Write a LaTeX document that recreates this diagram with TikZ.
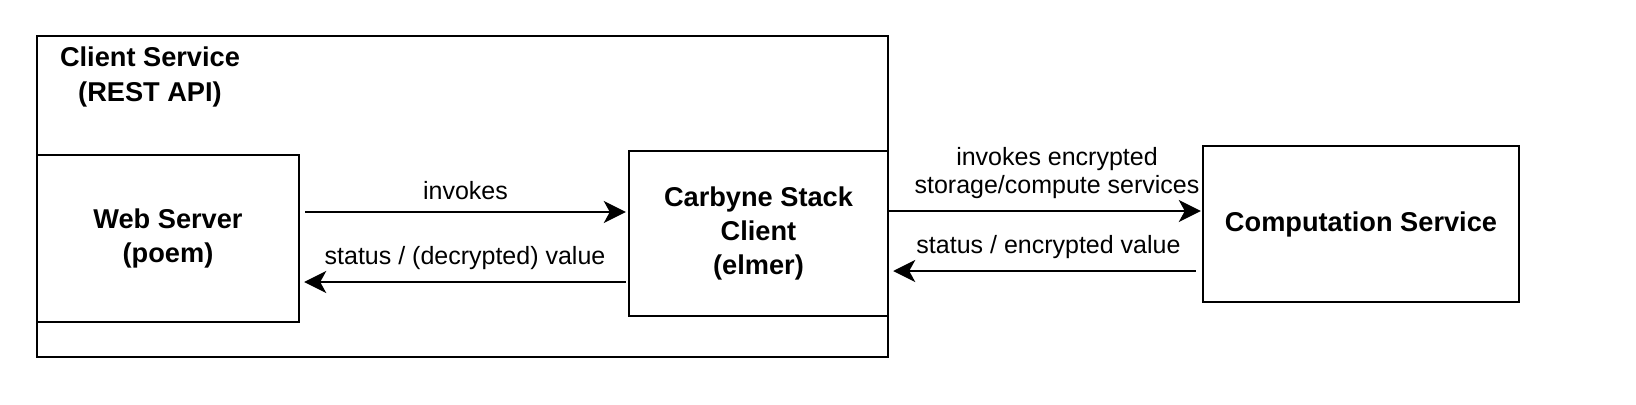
\documentclass[tikz,border=0pt]{standalone}
\usepackage{fontspec}
\setmainfont{Liberation Sans}
\usetikzlibrary{positioning}
\usetikzlibrary{calc}
\usetikzlibrary{arrows.meta}
\tikzset{
    % Filled arrow head, close to the classic one
    >={Stealth[length=11pt, width=11pt, inset=3pt]},
%
    % Plain boxes for the services
    service box/.style={
        draw, rectangle, line width=1.2pt, align=center, inner sep=0,
        font=\bfseries\fontsize{13.6}{17.2}\selectfont},
%
    % Text sitting on the connectors
    edge label/.style={align=center, font=\fontsize{12.5}{14}\selectfont}}

\begin{document}
\begin{tikzpicture}[x=0.5pt, y=-0.5pt, line width=1.2pt]
\useasboundingbox (0,0) rectangle (1636,404);

% The client service frame and its title
\node[service box, minimum width=425.5pt, minimum height=160.5pt]
    (client service) at (462.5,196.5) {};
\node[align=center, font=\bfseries\fontsize{13.6}{17.2}\selectfont]
    (client title) at (150,77) {Client Service\\(REST API)};

% Boxes inside the frame
\node[service box, minimum width=131pt, minimum height=83.5pt]
    (web server) at (168,238.5) {Web Server\\(poem)};
\node[service box, minimum width=129.5pt, minimum height=82.5pt]
    (carbyne) at (758.5,233.5) {Carbyne Stack\\Client\\(elmer)};

% The remote side
\node[service box, minimum width=158pt, minimum height=78pt]
    (computation) at (1361,224) {Computation Service};

% Web server <-> client
\draw[->] ($(web server.east)+(5,-26.5)$) -- ($(carbyne.west)+(-2,-21.5)$)
    node[edge label, midway, above=2pt] (invokes) {invokes};
\draw[->] ($(carbyne.west)+(-2,48.5)$) -- ($(web server.east)+(4,43.5)$)
    node[edge label, midway, above=2pt] (decrypted) {status / (decrypted) value};

% Client <-> computation service
\draw[->] ($(carbyne.east)+(0,-22.5)$) -- ($(computation.west)+(-1,-13)$)
    node[edge label, midway, above=2pt, xshift=6pt] (services)
    {invokes encrypted\\storage/compute services};
\draw[->] ($(computation.west)+(-6,47)$) -- ($(carbyne.east)+(4,37.5)$)
    node[edge label, midway, above=2pt, xshift=2pt] (encrypted)
    {status / encrypted value};

\end{tikzpicture}
\end{document}
